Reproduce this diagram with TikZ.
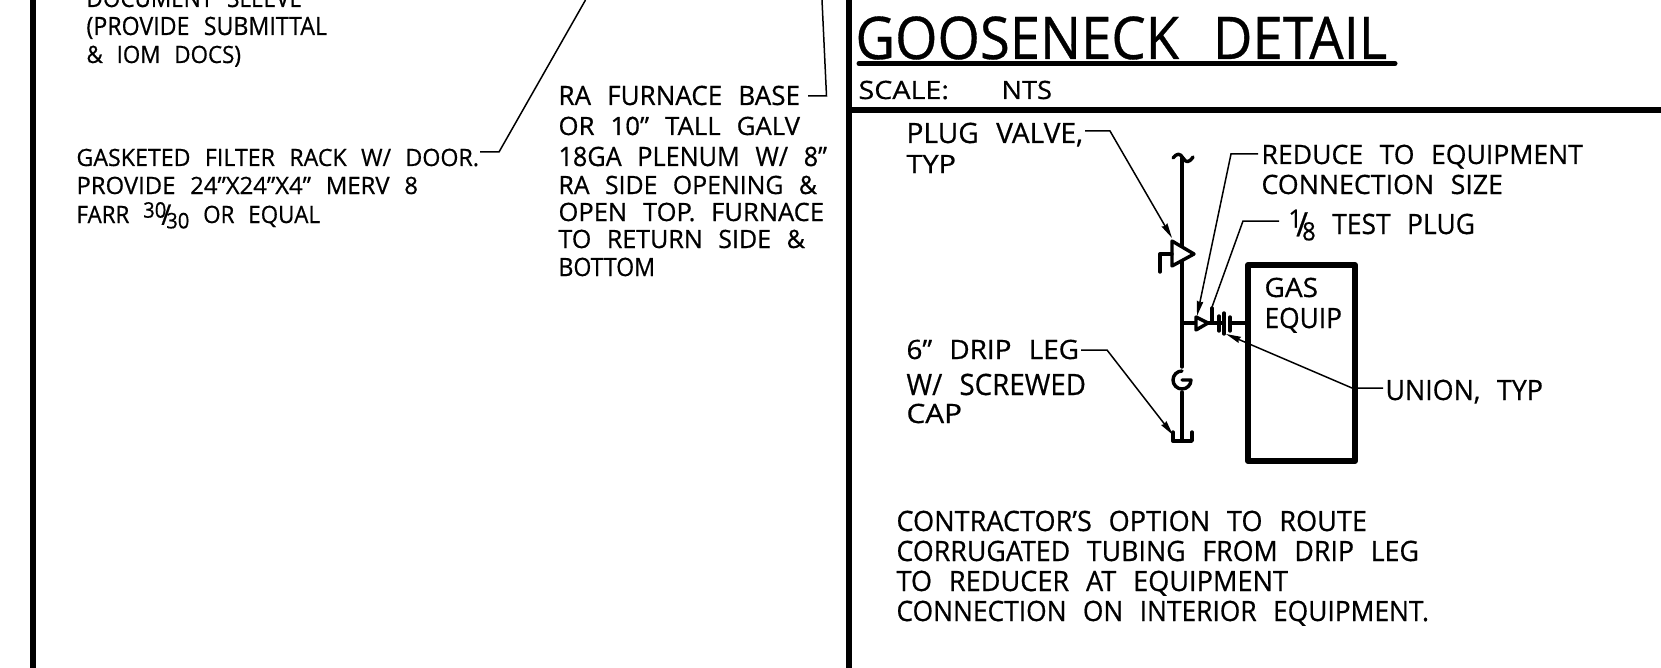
\documentclass[tikz,border=0pt]{standalone}
\usepackage{fontspec}
\setmainfont{Open Sans}[FakeBold=0.6]
\usepackage{graphicx}
\usetikzlibrary{arrows.meta}
\newsavebox{\tlbox}
\newsavebox{\tlcap}
% \TL{name}{left}{right}{captop}{baseline}{text}: a line of drafting text fitted to its measured box
\newcommand{\TL}[6]{%
  \node[txt] (#1) at (#2-1.5,#5) {%
  \sbox{\tlbox}{\spaceskip=0.62em #6}\sbox{\tlcap}{H}%
  \pgfmathsetmacro{\tlsx}{(#3-#2+1.5)*0.05*28.4528/\the\wd\tlbox}%
  \pgfmathsetmacro{\tlsy}{(#5-#4)*0.05*28.4528/\the\ht\tlcap}%
  \scalebox{\tlsx}[\tlsy]{\usebox{\tlbox}}};}
\newcommand{\fr}[2]{\raisebox{0.42ex}{\small #1}\kern-0.22em\raisebox{-0.15ex}{\large /}\kern-0.22em\raisebox{-0.42ex}{\small #2}}
\tikzset{
  txt/.style={inner sep=0pt,outer sep=0pt,anchor=base west},
  border/.style={line width=0.3cm,line cap=butt},
  pipe/.style={line width=0.17cm,line cap=round,line join=round},
  lead/.style={line width=0.075cm,line join=miter},
  leadarrow/.style={lead,-{Stealth[length=0.75cm,width=0.32cm,inset=0.06cm]}},
}
\begin{document}
\begin{tikzpicture}[x=0.05cm,y=-0.05cm]
\useasboundingbox (0,0) rectangle (1661,668);
\fill[white] (0,0) rectangle (1661,668);
\begin{scope}
\clip (0,0) rectangle (1661,668);
% frame lines
\draw[border] (32.5,0) -- (32.5,668);
\draw[border] (848.5,0) -- (848.5,668);
\draw[border] (851,110) -- (1661,110);
\draw[line width=0.25cm,line cap=round] (859,63.5) -- (1395,63.5);
% left notes
\TL{n1}{88}{302}{-11}{7}{DOCUMENT SLEEVE}
\TL{n2}{88}{327}{17}{35}{(PROVIDE SUBMITTAL}
\TL{n3}{88}{241}{46}{63}{\& IOM DOCS)}
\TL{g1}{78}{479}{149}{166}{GASKETED FILTER RACK W/ DOOR.}
\TL{g2}{78}{418}{177}{194}{PROVIDE 24”X24”X4” MERV 8}
\TL{g3}{78}{320}{206}{223}{FARR \fr{30}{30} OR EQUAL}
\coordinate (g0) at (480,152);
\coordinate (g1b) at (499,152);
\coordinate (g1t) at (585.5,0);
\draw[lead] (g0) -- (g1b) -- (g1t);
% RA note
\TL{r1}{560}{800}{86}{105}{RA FURNACE BASE}
\TL{r2}{560}{800}{117}{135}{OR 10” TALL GALV}
\TL{r3}{560}{827}{147}{166}{18GA PLENUM W/ 8”}
\TL{r4}{560}{817}{176}{194}{RA SIDE OPENING \&}
\TL{r5}{560}{824}{203}{221}{OPEN TOP. FURNACE}
\TL{r6}{560}{805}{230}{248}{TO RETURN SIDE \&}
\TL{r7}{560}{655}{258}{276}{BOTTOM}
\coordinate (r0) at (808,96);
\coordinate (r1b) at (826.5,96);
\coordinate (r1t) at (822,0);
\draw[lead] (r0) -- (r1b) -- (r1t);
% title
\TL{title}{857}{1387}{17}{59}{GOOSENECK DETAIL}
\TL{scale}{860}{949}{81}{99}{SCALE:}
\TL{nts}{1003}{1052}{81}{99}{NTS}
% callouts
\TL{p1}{908}{1083}{123}{143}{PLUG VALVE,}
\TL{p2}{908}{956}{155}{173}{TYP}
\TL{u1}{1263}{1583}{145}{164}{REDUCE TO EQUIPMENT}
\TL{u2}{1263}{1503}{175}{194}{CONNECTION SIZE}
\TL{tp}{1290}{1475}{214}{234}{\fr{1}{8} TEST PLUG}
\TL{ge1}{1266}{1318}{278}{297}{GAS}
\TL{ge2}{1266}{1342}{308}{328}{EQUIP}
\TL{un}{1387}{1543}{380}{400}{UNION, TYP}
\TL{d1}{908}{1079}{340}{359}{6” DRIP LEG}
\TL{d2}{908}{1086}{374}{395}{W/ SCREWED}
\TL{d3}{908}{962}{404}{423}{CAP}
\TL{c1}{898}{1367}{511}{531}{CONTRACTOR’S OPTION TO ROUTE}
\TL{c2}{898}{1419}{541}{561}{CORRUGATED TUBING FROM DRIP LEG}
\TL{c3}{898}{1288}{571}{591}{TO REDUCER AT EQUIPMENT}
\TL{c4}{898}{1429}{601}{621}{CONNECTION ON INTERIOR EQUIPMENT.}
% equipment box
\draw[line width=0.3cm,line join=round] (1248,265) rectangle (1355,461);
% pipe
\coordinate (ptop) at (1182,158);
\coordinate (pbranch) at (1182,323);
\coordinate (pgap1) at (1182,367);
\coordinate (pgap2) at (1182,392);
\coordinate (pbot) at (1182,440);
\draw[pipe] (ptop) -- (pgap1);
\draw[pipe] (pgap2) -- (pbot);
\draw[pipe] (1173,158) .. controls (1177,153) and (1180,153) .. (1183,158) .. controls (1186,163) and (1189,163) .. (1193,157);
% plug valve
\draw[pipe,fill=white] (1172,241) -- (1172,266) -- (1194,254) -- cycle;
\draw[pipe] (1172,254) -- (1160,254) -- (1160,272);
% cap symbol
\draw[pipe] (1182,371) arc[start angle=90,end angle=360,radius=0.45cm] -- (1182,380);
% drip leg cap
\draw[pipe] (1173,432) -- (1173,441) -- (1192,441) -- (1192,432);
% branch
\draw[pipe] (pbranch) -- (1196,323);
\draw[pipe,fill=white] (1196,317) -- (1196,330) -- (1208,323) -- cycle;
\draw[pipe] (1208,323) -- (1224,323);
\draw[pipe] (1212,308) -- (1212,323);
\draw[pipe] (1219,316) -- (1219,331);
\draw[pipe] (1224,313) -- (1224,334);
\draw[pipe] (1230,317) -- (1230,331);
\draw[pipe] (1230,323) -- (1246,323);
% leaders
\coordinate (a1) at (1085,131);
\coordinate (a2) at (1110,131);
\coordinate (a3) at (1172,238);
\draw[leadarrow] (a1) -- (a2) -- (a3);
\coordinate (b1) at (1258,154);
\coordinate (b2) at (1231,154);
\coordinate (b3) at (1197,316);
\draw[leadarrow] (b1) -- (b2) -- (b3);
\coordinate (e1) at (1279,221);
\coordinate (e2) at (1243,221);
\coordinate (e3) at (1212,307);
\draw[lead] (e1) -- (e2) -- (e3);
\coordinate (f1) at (1383,388);
\coordinate (f2) at (1352,388);
\coordinate (f3) at (1226,334);
\draw[leadarrow] (f1) -- (f2) -- (f3);
\coordinate (h1) at (1081,350);
\coordinate (h2) at (1107,350);
\coordinate (h3) at (1173,435);
\draw[leadarrow] (h1) -- (h2) -- (h3);
\end{scope}
\end{tikzpicture}
\end{document}
